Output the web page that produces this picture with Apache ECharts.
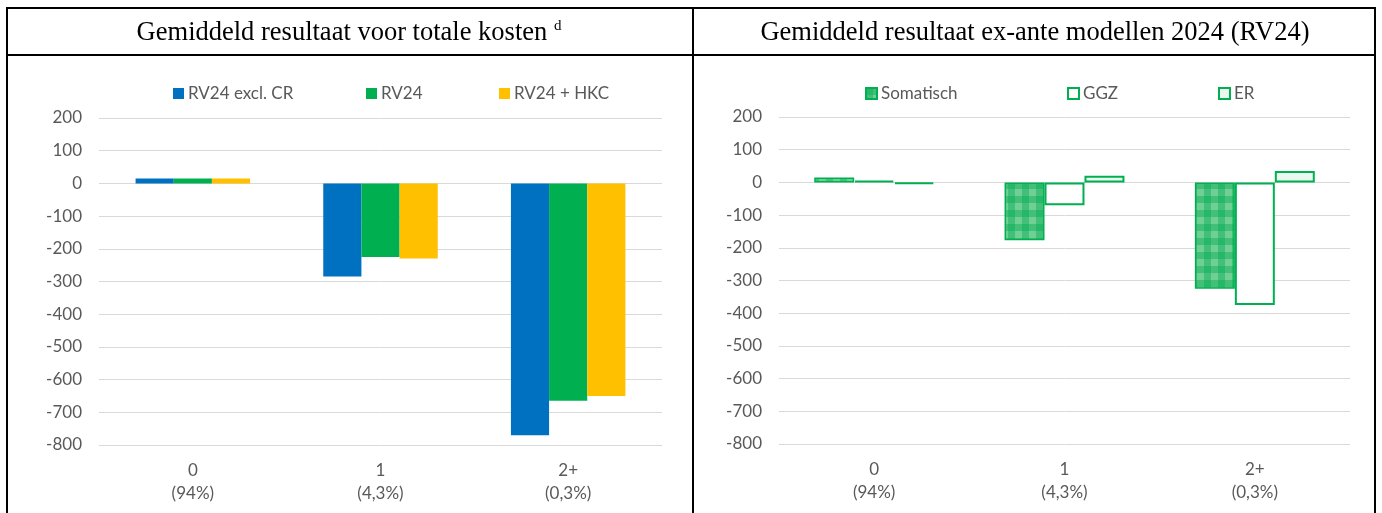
<!DOCTYPE html>
<html><head><meta charset="utf-8">
<script src="https://cdn.jsdelivr.net/npm/echarts@6/dist/echarts.min.js"></script>
<style>html,body{margin:0;padding:0;background:#fff}#c{width:1382px;height:513px}</style>
</head><body><div id="c"></div>
<script>
// ---- data ----
const categories = ['0\n(94%)', '1\n(4,3%)', '2+\n(0,3%)'];
const yTicks = [200, 100, 0, -100, -200, -300, -400, -500, -600, -700, -800];
const leftNames = ['RV24 excl. CR', 'RV24', 'RV24 + HKC'];
const rv24ExclCR = [15, -285, -770];
const rv24 = [15, -225, -665];
const rv24HKC = [15, -230, -650];
const rightNames = ['Somatisch', 'GGZ', 'ER'];
const somatisch = [15, -177, -325];
const ggz = [5, -70, -375];
const er = [-5, 20, 35];
const leftTitle = 'Gemiddeld resultaat voor totale kosten';
const rightTitle = 'Gemiddeld resultaat ex-ante modellen 2024 (RV24)';

// plaid pattern
const pc = document.createElement('canvas');
pc.width = 14; pc.height = 14;
const g = pc.getContext('2d');
g.fillStyle = '#6fcf95'; g.fillRect(0, 0, 14, 14);
g.fillStyle = 'rgba(0,170,80,0.4)'; g.fillRect(0, 0, 7, 14); g.fillRect(0, 0, 14, 7);

const chart = echarts.init(document.getElementById('c'));
const font = 'Lato, "Open Sans", sans-serif';
const green = '#00B050';
const yMin = yTicks[yTicks.length - 1], yMax = yTicks[0];
function yAx(i) {
  return {type: 'value', gridIndex: i, min: yMin, max: yMax, interval: 100,
    axisLabel: {color: '#595959', fontSize: 17, fontFamily: font, margin: 17},
    splitLine: {lineStyle: {color: '#d9d9d9', width: 1}},
    axisLine: {show: false}, axisTick: {show: false}};
}
function xAx(i) {
  return {type: 'category', gridIndex: i, data: categories,
    axisLine: {show: false, onZero: false}, axisTick: {show: false},
    axisLabel: {color: '#595959', fontSize: 17, fontFamily: font, margin: 14, lineHeight: 23}};
}
function legendAt(name, left) {
  return {data: [name], left: left, top: 85, icon: 'rect', itemWidth: 11, itemHeight: 11, itemGap: 0, padding: 0,
    textStyle: {color: '#595959', fontSize: 17, fontFamily: font, padding: [0, 0, 0, -1]}};
}
const L = 'black';
chart.setOption({
  animation: false,
  backgroundColor: '#fff',
  grid: [
    {left: 99, right: 1382 - 662, top: 118, bottom: 513 - 445},
    {left: 779, right: 1382 - 1350, top: 117, bottom: 513 - 444}
  ],
  xAxis: [xAx(0), xAx(1)],
  yAxis: [yAx(0), yAx(1)],
  legend: [
    legendAt(leftNames[0], 173), legendAt(leftNames[1], 366), legendAt(leftNames[2], 499),
    legendAt(rightNames[0], 865), legendAt(rightNames[1], 1067), legendAt(rightNames[2], 1218)
  ],
  graphic: [
    {type: 'rect', shape: {x: 7, y: 8, width: 1368, height: 520}, style: {fill: 'none', stroke: L, lineWidth: 2}, silent: true},
    {type: 'line', shape: {x1: 7, y1: 55, x2: 1375, y2: 55}, style: {stroke: L, lineWidth: 2}, silent: true},
    {type: 'line', shape: {x1: 693, y1: 8, x2: 693, y2: 513}, style: {stroke: L, lineWidth: 2}, silent: true},
    {type: 'text', x: 349, y: 33, style: {text: '{t|' + leftTitle + ' }{s|d}', align: 'center', verticalAlign: 'middle',
      rich: {t: {fontFamily: '"Liberation Serif", serif', fontSize: 26.5, fill: '#000'},
             s: {fontFamily: '"Liberation Serif", serif', fontSize: 15, fill: '#000', verticalAlign: 'top', padding: [0, 0, 14, 0]}}}},
    {type: 'text', x: 1035, y: 33, style: {text: rightTitle, align: 'center', verticalAlign: 'middle',
      fontFamily: '"Liberation Serif", serif', fontSize: 26.5, fill: '#000'}}
  ],
  series: [
    {name: leftNames[0], type: 'bar', xAxisIndex: 0, yAxisIndex: 0, data: rv24ExclCR, barGap: '0%', barCategoryGap: '39%', itemStyle: {color: '#0070C0'}},
    {name: leftNames[1], type: 'bar', xAxisIndex: 0, yAxisIndex: 0, data: rv24, itemStyle: {color: '#00B050'}},
    {name: leftNames[2], type: 'bar', xAxisIndex: 0, yAxisIndex: 0, data: rv24HKC, itemStyle: {color: '#FFC000'}},
    {name: rightNames[0], type: 'bar', xAxisIndex: 1, yAxisIndex: 1, data: somatisch, barGap: '0%', barCategoryGap: '37%',
      itemStyle: {color: {image: pc, repeat: 'repeat'}, borderColor: green, borderWidth: 1.5}},
    {name: rightNames[1], type: 'bar', xAxisIndex: 1, yAxisIndex: 1, data: ggz,
      itemStyle: {color: '#ffffff', borderColor: green, borderWidth: 2}},
    {name: rightNames[2], type: 'bar', xAxisIndex: 1, yAxisIndex: 1, data: er,
      itemStyle: {color: '#eaf8ef', borderColor: green, borderWidth: 2}}
  ]
});
</script></body></html>
